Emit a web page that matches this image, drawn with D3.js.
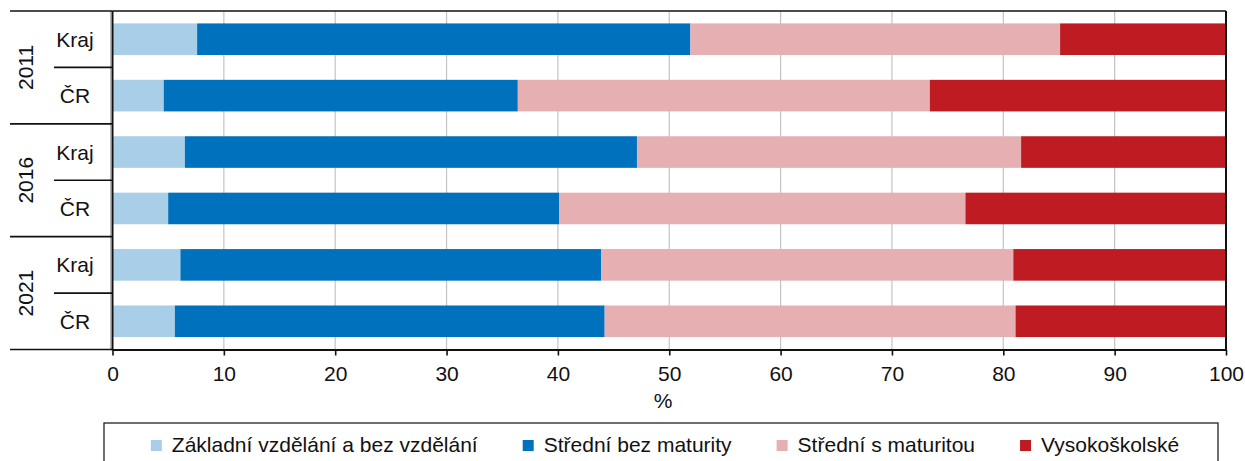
<!DOCTYPE html>
<html>
<head>
  <meta charset="utf-8">
  <title>Vzdělání – Kraj a ČR</title>
  <script src="https://d3js.org/d3.v7.min.js"></script>
  <style>
    body { margin: 0; background: #fff; }
    svg text { font-family: "Liberation Sans", Arial, Helvetica, sans-serif; font-size: 21px; fill: #111; }
  </style>
</head>
<body>
<div id="graf"></div>
<script>
// data (podíly v %), poradi radku shora dolu
var roky = ["2011", "2016", "2021"];
var uzemi = ["Kraj", "ČR"];
var skupiny = ["Základní vzdělání a bez vzdělání", "Střední bez maturity", "Střední s maturitou", "Vysokoškolské"];
var barvy = ["#a8cee8", "#0071bc", "#e6afb2", "#be1b22"];

var zakladni   = [7.6, 4.6, 6.5, 5.0, 6.1, 5.6];
var stredniBez = [44.3, 31.8, 40.6, 35.1, 37.8, 38.6];
var stredniS   = [33.2, 37.0, 34.5, 36.5, 37.0, 36.9];
var vysoke     = [14.9, 26.6, 18.4, 23.4, 19.1, 18.9];

var xTicks = [0, 10, 20, 30, 40, 50, 60, 70, 80, 90, 100];

var radky = [];
roky.forEach(function(r) {
  uzemi.forEach(function(u) { radky.push({ rok: r, uzemi: u }); });
});
radky.forEach(function(d, i) {
  d.id = d.rok + "_" + d.uzemi;
  d[skupiny[0]] = zakladni[i];
  d[skupiny[1]] = stredniBez[i];
  d[skupiny[2]] = stredniS[i];
  d[skupiny[3]] = vysoke[i];
});

var W = 1245, H = 461;
var gLeft = 112.5, gRight = 1226, gTop = 11, gBottom = 349.5;

var svg = d3.select("#graf").append("svg")
  .attr("width", W)
  .attr("height", H);

var x = d3.scaleLinear().domain([0, 100]).range([gLeft, gRight]);
var y = d3.scaleBand().domain(radky.map(d => d.id))
  .range([gTop, gBottom])
  .paddingInner(0.44)
  .paddingOuter(0.22);

// mrizka
svg.append("g").selectAll("line").data(xTicks.slice(1, -1)).enter().append("line")
  .attr("x1", d => x(d)).attr("x2", d => x(d))
  .attr("y1", gTop).attr("y2", gBottom)
  .attr("stroke", "#c3c3c3")
  .attr("stroke-width", 1.2);

// pruhy
var stack = d3.stack().keys(skupiny)(radky);

svg.append("g").selectAll("g").data(stack).enter().append("g")
  .attr("fill", (d, i) => barvy[i])
  .selectAll("rect").data(d => d).enter().append("rect")
  .attr("x", d => x(d[0]))
  .attr("width", d => x(d[1]) - x(d[0]))
  .attr("y", d => y(d.data.id))
  .attr("height", y.bandwidth());

// ramecek
svg.append("line").attr("x1", gLeft).attr("x2", gRight).attr("y1", gTop).attr("y2", gTop)
  .attr("stroke", "#111").attr("stroke-width", 1.6);
svg.append("line").attr("x1", gRight).attr("x2", gRight).attr("y1", gTop).attr("y2", gBottom)
  .attr("stroke", "#111").attr("stroke-width", 2);
svg.append("line").attr("x1", gLeft - 2).attr("x2", gLeft - 2).attr("y1", gTop).attr("y2", gBottom)
  .attr("stroke", "#bbb").attr("stroke-width", 1);
svg.append("line").attr("x1", gLeft).attr("x2", gLeft).attr("y1", gTop).attr("y2", gBottom + 1)
  .attr("stroke", "#111").attr("stroke-width", 2);

// osa x
var osaX = svg.append("g")
  .attr("transform", "translate(0," + gBottom + ")")
  .call(d3.axisBottom(x).tickValues(xTicks).tickSize(6).tickPadding(11).tickSizeOuter(0));
osaX.select(".domain").attr("stroke", "#111").attr("stroke-width", 2.2);
osaX.selectAll(".tick line").attr("stroke", "#111").attr("stroke-width", 1.6);
osaX.selectAll("text").style("font-size", "21px").attr("fill", "#111")
  .style("font-family", "'Liberation Sans', Arial, sans-serif");

svg.append("text")
  .attr("x", 663).attr("y", 408)
  .attr("text-anchor", "middle")
  .text("%");

// osa y – dvouurovnove popisky
var krok = y.step();
var hranice = d3.range(radky.length + 1).map(k => gTop + k * krok);

svg.append("g").selectAll("line").data(hranice).enter().append("line")
  .attr("x1", (d, k) => k % 2 == 0 ? 10 : 54)
  .attr("x2", gLeft)
  .attr("y1", d => d).attr("y2", d => d)
  .attr("stroke", "#111")
  .attr("stroke-width", 1.6);

svg.append("g").selectAll("text").data(radky).enter().append("text")
  .attr("x", 75)
  .attr("y", d => y(d.id) + y.bandwidth() / 2)
  .attr("text-anchor", "middle")
  .attr("dominant-baseline", "central")
  .text(d => d.uzemi);

svg.append("g").selectAll("text").data(roky).enter().append("text")
  .attr("transform", (d, i) => "translate(25," + (gTop + (2 * i + 1) * krok) + ") rotate(-90)")
  .attr("text-anchor", "middle")
  .attr("dominant-baseline", "central")
  .text(d => d);

// legenda
svg.append("rect")
  .attr("x", 104).attr("y", 423)
  .attr("width", 1114).attr("height", 60)
  .attr("fill", "none")
  .attr("stroke", "#222")
  .attr("stroke-width", 1.3);

var leg = svg.append("g");
var polozky = leg.selectAll("g").data(skupiny).enter().append("g");
polozky.append("rect")
  .attr("width", 11).attr("height", 11)
  .attr("y", 440)
  .attr("fill", (d, i) => barvy[i]);
polozky.append("text")
  .attr("x", 21).attr("y", 452)
  .text(d => d);

var sirky = [];
polozky.each(function() { sirky.push(this.querySelector("text").getComputedTextLength() + 21); });
var mezera = 45;
var celkem = d3.sum(sirky) + mezera * (sirky.length - 1);
var pos = 665 - celkem / 2;
polozky.each(function(d, i) {
  d3.select(this).attr("transform", "translate(" + pos + ",0)");
  pos += sirky[i] + mezera;
});
</script>
</body>
</html>
